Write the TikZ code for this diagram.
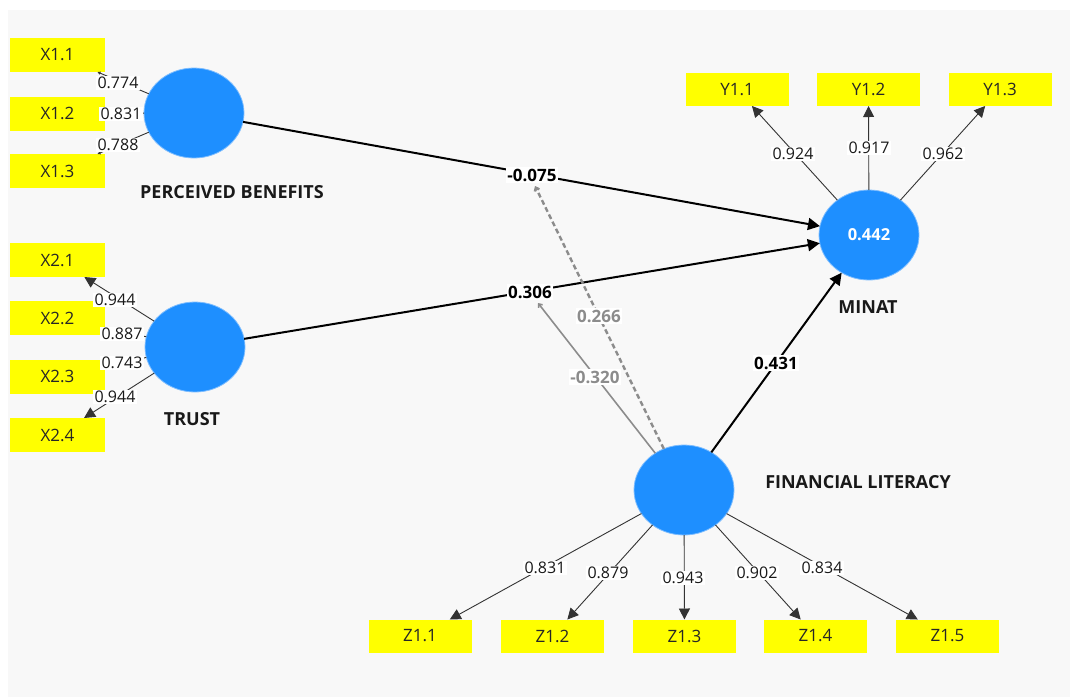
\documentclass[tikz,border=0pt]{standalone}
\usepackage{fontspec}
\usetikzlibrary{shapes.geometric,arrows.meta}
\newfontfamily\uifont{Open Sans}
\definecolor{bgc}{HTML}{F8F8F8}
\definecolor{lvblue}{HTML}{1E8FFF}
\definecolor{lvring}{HTML}{7DBDFF}
\definecolor{indy}{HTML}{FFFF00}
\definecolor{modgrey}{HTML}{8C8C8C}
\tikzset{
  lv/.style={ellipse, fill=lvblue, draw=lvring, line width=0.8pt, minimum width=100pt, minimum height=90pt, inner sep=0pt, outer sep=0pt},
  ind/.style={rectangle, fill=indy, minimum width=95pt, minimum height=34pt, inner sep=0pt, outer sep=0pt, font=\uifont\fontsize{17}{18}\selectfont, text=black!85},
  indw/.style={ind, minimum width=103pt, minimum height=33pt},
  lvname/.style={font=\uifont\bfseries\fontsize{18}{19}\selectfont, text=black!90, inner sep=0pt},
  ld/.style={fill=white, inner sep=1.5pt, font=\uifont\fontsize{16}{17}\selectfont, text=black!90},
  pc/.style={fill=white, inner sep=1.5pt, font=\uifont\bfseries\fontsize{17}{18}\selectfont, text=black},
  mc/.style={fill=white, inner sep=1.5pt, font=\uifont\bfseries\fontsize{17}{18}\selectfont, text=modgrey},
  outer/.style={draw=black!80, line width=0.9pt, -{Triangle[length=11pt,width=11pt]}},
  outersm/.style={draw=black!80, line width=0.9pt, -{Triangle[length=3pt,width=3pt]}},
  struct/.style={draw=black, line width=2pt, -{Triangle[length=12pt,width=12pt]}},
  moddash/.style={draw=modgrey, line width=2.4pt, dash pattern=on 5pt off 3pt, -{Straight Barb[length=3pt,width=5pt]}},
  modsolid/.style={draw=modgrey, line width=1.6pt, -{Straight Barb[length=3pt,width=5pt]}},
}
\begin{document}
\begin{tikzpicture}[x=1pt,y=-1pt]
\useasboundingbox (0,0) rectangle (1070,697);
\fill[white] (0,0) rectangle (1070,697);
\fill[bgc] (8,10) rectangle (1070,697);

% latent variables
\node[lv] (PB) at (194,113) {};
\node[lv] (TR) at (195,347) {};
\node[lv] (MI) at (869,235) {};
\node[lv] (FL) at (684,490) {};
\node[font=\uifont\bfseries\fontsize{16.5}{17}\selectfont, text=white] (r2) at (MI) {0.442};

% indicators
\node[ind] (X11) at (57.5,55) {X1.1};
\node[ind] (X12) at (57.5,113.5) {X1.2};
\node[ind] (X13) at (57.5,171) {X1.3};
\node[ind] (X21) at (57.5,260) {X2.1};
\node[ind] (X22) at (57.5,318) {X2.2};
\node[ind] (X23) at (57.5,376.5) {X2.3};
\node[ind] (X24) at (57.5,435) {X2.4};
\node[indw] (Y11) at (737,89.5) {Y1.1};
\node[indw] (Y12) at (868.5,89.5) {Y1.2};
\node[indw] (Y13) at (1000,89.5) {Y1.3};
\node[indw] (Z11) at (420,636) {Z1.1};
\node[indw] (Z12) at (552.5,636) {Z1.2};
\node[indw] (Z13) at (684.5,636) {Z1.3};
\node[indw] (Z14) at (815.5,636) {Z1.4};
\node[indw] (Z15) at (947.5,636) {Z1.5};

% names
\node[lvname] (nPB) at (232,192) {PERCEIVED BENEFITS};
\node[lvname] (nTR) at (192,419) {TRUST};
\node[lvname] (nMI) at (868,307) {MINAT};
\node[lvname] (nFL) at (858,482) {FINANCIAL LITERACY};

% outer edges
\draw[outersm] (PB) -- (X11);
\draw[outersm] (PB) -- (X12);
\draw[outersm] (PB) -- (X13);
\draw[outer] (TR) -- (X21);
\draw[outersm] (TR) -- (X22);
\draw[outersm] (TR) -- (X23);
\draw[outer] (TR) -- (X24);
\draw[outer] (MI) -- (Y11);
\draw[outer] (MI) -- (Y12);
\draw[outer] (MI) -- (Y13);
\draw[outer] (FL) -- (Z11);
\draw[outer] (FL) -- (Z12);
\draw[outer] (FL) -- (Z13);
\draw[outer] (FL) -- (Z14);
\draw[outer] (FL) -- (Z15);

% structural
\draw[struct] (PB) -- (MI);
\draw[struct] (TR) -- (MI);
\draw[struct] (FL) -- (MI);

% moderating
\coordinate (mA) at (535,186);
\coordinate (mB) at (538,303);
\draw[moddash] (FL) -- (mA);
\draw[modsolid] (FL) -- (mB);

% loadings
\node[ld] (l1) at (118,83) {0.774};
\node[ld] (l2) at (121,114) {0.831};
\node[ld] (l3) at (118,145) {0.788};
\node[ld] (l4) at (115,300) {0.944};
\node[ld] (l5) at (122,334) {0.887};
\node[ld] (l6) at (122,363) {0.743};
\node[ld] (l7) at (115,397) {0.944};
\node[ld] (l8) at (793,154) {0.924};
\node[ld] (l9) at (869,148) {0.917};
\node[ld] (l10) at (943,154) {0.962};
\node[ld] (l11) at (545,568) {0.831};
\node[ld] (l12) at (608,573) {0.879};
\node[ld] (l13) at (683,578) {0.943};
\node[ld] (l14) at (757,573) {0.902};
\node[ld] (l15) at (822,568) {0.834};

% path coefficients
\node[pc] (cPB) at (532,175) {-0.075};
\node[pc] (cTR) at (530,292) {0.306};
\node[pc] (cFL) at (776,363) {0.431};
\node[mc] (c266) at (599,316) {0.266};
\node[mc] (c320) at (595,377) {-0.320};
\end{tikzpicture}
\end{document}
